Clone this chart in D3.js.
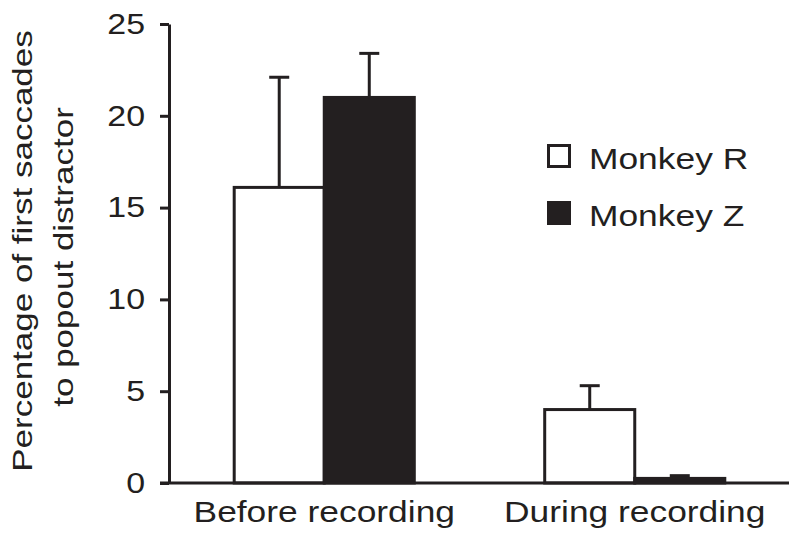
<!DOCTYPE html>
<html>
<head>
<meta charset="utf-8">
<script src="https://cdn.jsdelivr.net/npm/d3@7"></script>
<style>
  body { margin: 0; background: #fff; }
  svg text { font-family: "Liberation Sans", Arial, Helvetica, sans-serif; fill: #231f20; }
</style>
</head>
<body>
<script>
(function(d3) {
	var width = 800;
	var height = 540;
	var ink = "#231f20";
	var stretch = 1.22; // the figure's type is set wide

	// data
	var categories = ["Before recording", "During recording"];
	var series = ["Monkey R", "Monkey Z"];
	var fills = ["#ffffff", ink];
	var monkeyR = [16.1, 4.0];
	var monkeyZ = [21.0, 0.25];
	var monkeyRUpper = [22.1, 5.3];
	var monkeyZUpper = [23.4, 0.4];
	var yTicks = [0, 5, 10, 15, 20, 25];

	var values = [monkeyR, monkeyZ];
	var uppers = [monkeyRUpper, monkeyZUpper];

	var svg = d3.select("body").append("svg")
		.attr("width", width)
		.attr("height", height);

	var y = d3.scaleLinear().domain([0, 25]).range([483, 24]);
	var x = d3.scaleBand().domain(categories).range([169, 790])
		.paddingInner(0.42).paddingOuter(0.21);
	var xs = d3.scaleBand().domain(series).range([0, x.bandwidth()]);

	// bars
	series.forEach(function(s, si) {
		var g = svg.append("g");
		var rows = categories.map(function(c, ci) {
			return {cat: c, v: values[si][ci], hi: uppers[si][ci]};
		});

		// error bars (upper only)
		rows.forEach(function(d) {
			var cx = x(d.cat) + xs(s) + xs.bandwidth() / 2;
			g.append("line")
				.attr("x1", cx).attr("x2", cx)
				.attr("y1", y(d.v)).attr("y2", y(d.hi))
				.attr("stroke", ink).attr("stroke-width", 3);
			g.append("line")
				.attr("x1", cx - 10).attr("x2", cx + 10)
				.attr("y1", y(d.hi)).attr("y2", y(d.hi))
				.attr("stroke", ink).attr("stroke-width", 3);
		});

		g.selectAll("rect").data(rows).enter().append("rect")
			.attr("x", function(d) { return x(d.cat) + xs(s); })
			.attr("y", function(d) { return y(d.v); })
			.attr("width", xs.bandwidth())
			.attr("height", function(d) { return y(0) - y(d.v); })
			.attr("fill", fills[si])
			.attr("stroke", ink)
			.attr("stroke-width", 3);
	});

	// y axis
	var yAxis = svg.append("g")
		.attr("transform", "translate(169,0)")
		.call(d3.axisLeft(y).tickValues(yTicks).tickSize(9).tickSizeOuter(0).tickPadding(15));
	yAxis.selectAll("path, line").attr("stroke", ink).attr("stroke-width", 3);
	yAxis.selectAll("text")
		.attr("x", 0)
		.attr("transform", "translate(-24,0) scale(1.17,1)")
		.attr("font-size", "29px").attr("fill", ink)
		.style("font-family", "'Liberation Sans', Arial, sans-serif");

	// baseline
	svg.append("line")
		.attr("x1", 160).attr("x2", 789)
		.attr("y1", y(0)).attr("y2", y(0))
		.attr("stroke", ink).attr("stroke-width", 3);

	// category labels
	svg.selectAll(".cat").data(categories).enter().append("text")
		.attr("class", "cat")
		.attr("transform", function(d) {
			return "translate(" + (x(d) + x.bandwidth() / 2) + ",522) scale(" + stretch + ",1)";
		})
		.attr("text-anchor", "middle")
		.attr("font-size", "29px")
		.text(function(d) { return d; });

	// y label
	var yl = svg.append("text")
		.attr("transform", "translate(0,251) rotate(-90)")
		.attr("text-anchor", "middle")
		.attr("font-size", "28px");
	yl.append("tspan").attr("x", 0).attr("y", 32)
		.attr("transform", "scale(1.25,1)")
		.text("Percentage of first saccades");
	// second line sits a little lower than the first
	var yl2 = svg.append("text")
		.attr("transform", "translate(0,257) rotate(-90) scale(1.25,1)")
		.attr("text-anchor", "middle")
		.attr("font-size", "28px")
		.attr("y", 73)
		.text("to popout distractor");
	yl.attr("transform", "translate(0,251) rotate(-90) scale(1.25,1)");

	// legend
	var legend = svg.append("g").attr("transform", "translate(547,144)");
	series.forEach(function(s, i) {
		var row = legend.append("g").attr("transform", "translate(0," + (i * 57) + ")");
		row.append("rect")
			.attr("x", 1.5).attr("y", 1.5)
			.attr("width", 21).attr("height", 21)
			.attr("fill", fills[i])
			.attr("stroke", ink).attr("stroke-width", 3);
		row.append("text")
			.attr("transform", "translate(42,25) scale(" + stretch + ",1)")
			.attr("font-size", "29px")
			.text(s);
	});
})(d3);
</script>
</body>
</html>
